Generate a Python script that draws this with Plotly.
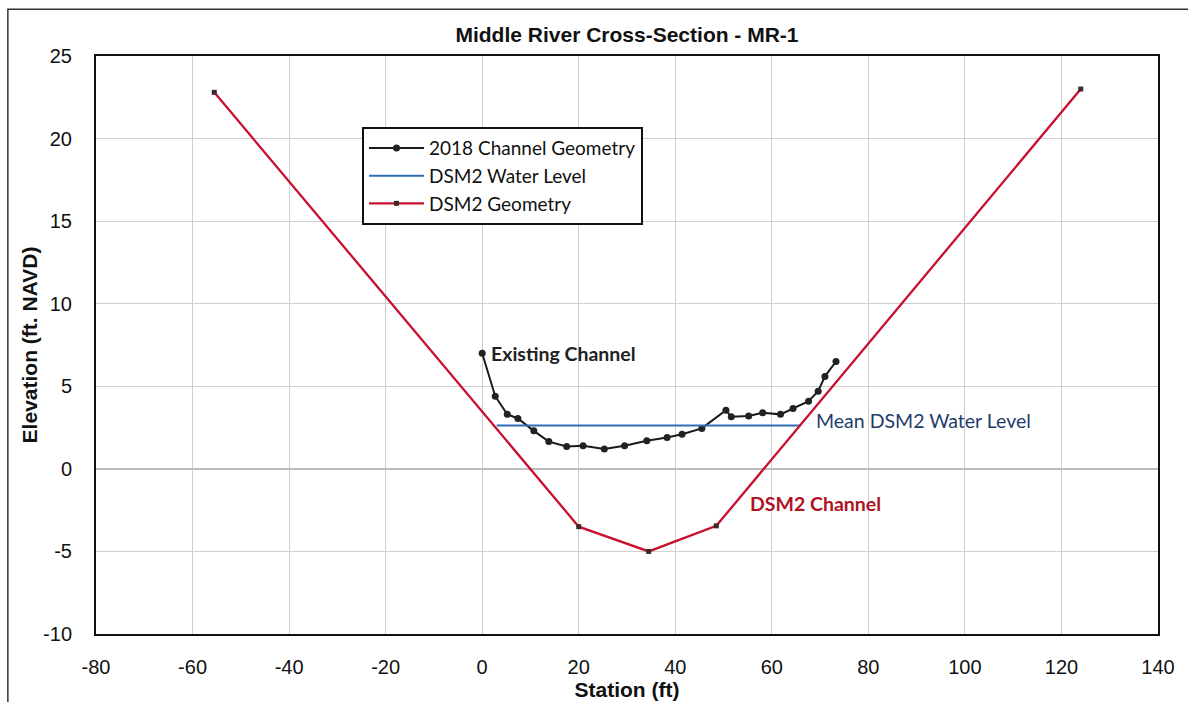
import plotly.graph_objects as go

# 2018 surveyed channel geometry (station ft, elevation ft NAVD)
survey_station = [0.0, 2.7, 5.2, 7.4, 10.7, 13.8, 17.5, 20.9, 25.3, 29.5, 34.1, 38.3,
                  41.4, 45.5, 50.5, 51.6, 55.2, 58.1, 61.8, 64.4, 67.6, 69.6, 71.0, 73.3]
survey_elev = [7.0, 4.4, 3.3, 3.05, 2.3, 1.65, 1.35, 1.4, 1.2, 1.4, 1.7, 1.9,
               2.1, 2.45, 3.55, 3.15, 3.2, 3.4, 3.3, 3.65, 4.1, 4.7, 5.6, 6.5]

# Mean DSM2 water level
water_station = [3.0, 65.8]
water_elev = [2.62, 2.62]

# DSM2 trapezoidal channel geometry
dsm2_station = [-55.5, 20.0, 34.5, 48.5, 124.0]
dsm2_elev = [22.8, -3.5, -5.0, -3.45, 23.0]

x_ticks = list(range(-80, 141, 20))
y_ticks = list(range(-10, 26, 5))
x_tick_text = [str(v) for v in x_ticks]
y_tick_text = [str(v) for v in y_ticks]

label_font = "Liberation Sans, Arial, sans-serif"
callout_font = "Lato, Open Sans, sans-serif"

fig = go.Figure()

fig.add_trace(go.Scatter(
    x=survey_station, y=survey_elev, mode="lines+markers",
    name="2018 Channel Geometry", legendgroup="a",
    line=dict(color="#1a1a1a", width=2),
    marker=dict(color="#222222", size=7, symbol="circle"),
))
fig.add_trace(go.Scatter(
    x=water_station, y=water_elev, mode="lines",
    name="DSM2 Water Level", legendgroup="b",
    line=dict(color="#2c6fb5", width=2),
))
fig.add_trace(go.Scatter(
    x=dsm2_station, y=dsm2_elev, mode="lines+markers",
    name="DSM2 Geometry", legendgroup="c",
    line=dict(color="#c8102e", width=2.3),
    marker=dict(color="#3a2a2a", size=5, symbol="square"),
))

fig.add_annotation(x=1.5, y=7.0, text="<b>Existing Channel</b>", showarrow=False,
                   xanchor="left", yanchor="middle",
                   font=dict(family=callout_font, size=19.5, color="#222222"))
fig.add_annotation(x=68.8, y=2.95, text="Mean DSM2 Water Level", showarrow=False,
                   xanchor="left", yanchor="middle",
                   font=dict(family=callout_font, size=19.5, color="#1f3d6b"))
fig.add_annotation(x=55.0, y=-2.1, text="<b>DSM2 Channel</b>", showarrow=False,
                   xanchor="left", yanchor="middle",
                   font=dict(family=callout_font, size=19.5, color="#b0121f"))

# outer chart frame
fig.add_shape(type="rect", xref="paper", yref="paper",
              x0=-0.083, x1=1.06, y0=-0.2, y1=1.081,
              line=dict(color="#333333", width=1.5), layer="below")

fig.update_layout(
    width=1188, height=702,
    margin=dict(l=96, r=30, t=56, b=68),
    paper_bgcolor="white", plot_bgcolor="white",
    title=dict(text="<b>Middle River Cross-Section - MR-1</b>",
               xref="paper", x=0.5, xanchor="center", y=0.951, yanchor="middle",
               font=dict(family=label_font, size=21, color="#111111")),
    showlegend=True,
    legend=dict(x=0.2505, y=0.877, xanchor="left", yanchor="top",
                bgcolor="white", bordercolor="#111111", borderwidth=2,
                font=dict(family=callout_font, size=19, color="#111111"),
                tracegroupgap=0, itemwidth=55),
    xaxis=dict(range=[-80, 140], tickvals=x_ticks, ticktext=x_tick_text, showgrid=True,
               gridcolor="#cfcfcf", gridwidth=1, zeroline=False, automargin=False,
               showline=True, linecolor="#111111", linewidth=2, mirror=True,
               ticks="", ticklabelstandoff=14,
               tickfont=dict(family=label_font, size=20, color="#111111"),
               title=dict(text="<b>Station (ft)</b>", standoff=2,
                          font=dict(family=label_font, size=21, color="#111111"))),
    yaxis=dict(range=[-10, 25], tickvals=y_ticks, ticktext=y_tick_text, showgrid=True,
               gridcolor="#cfcfcf", gridwidth=1, zeroline=True, automargin=False,
               zerolinecolor="#bdbdbd", zerolinewidth=1.5,
               showline=True, linecolor="#111111", linewidth=2, mirror=True,
               ticks="", ticklabelstandoff=18,
               tickfont=dict(family=label_font, size=20, color="#111111"),
               title=dict(text="<b>Elevation (ft. NAVD)</b>", standoff=0,
                          font=dict(family=label_font, size=21, color="#111111"))),
)

fig.write_html("out.html")
